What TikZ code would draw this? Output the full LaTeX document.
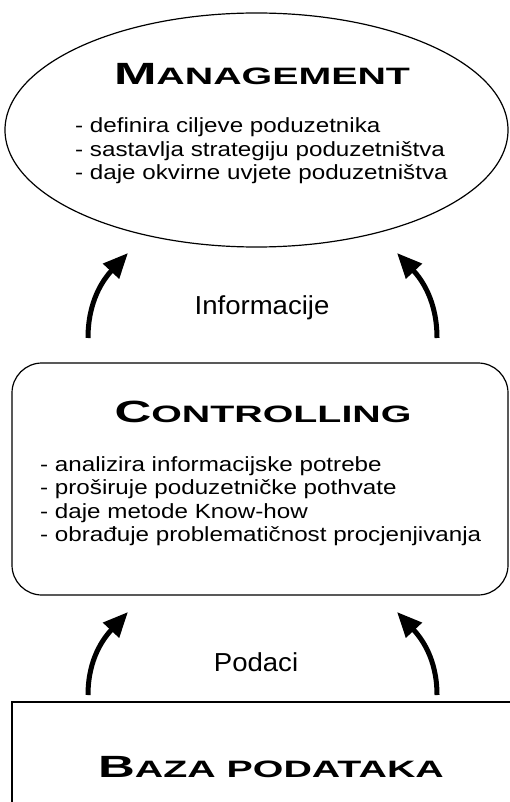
\documentclass[tikz,border=0pt]{standalone}
\usepackage{fontspec}
\usepackage{tikz}
\usetikzlibrary{shapes.geometric,arrows.meta}
\setmainfont{Liberation Sans}
\newfontfamily\bodyfont[FakeStretch=1.18]{Liberation Sans}
\newfontfamily\labelfont[FakeStretch=1.06]{Liberation Sans}
\newfontfamily\titlefont[FakeStretch=1.66]{Liberation Sans Bold}
\newcommand{\sctitle}[2]{{\fontsize{30.7}{31}\selectfont #1}{\fontsize{23.7}{24}\selectfont #2}}

\begin{document}
\begin{tikzpicture}[x=1pt,y=1pt,
    box/.style={draw, line width=1.2pt, inner sep=0pt},
    title/.style={anchor=base, inner sep=0pt, font=\titlefont},
    list/.style={anchor=base west, align=left, inner sep=0pt, font=\bodyfont\fontsize{20.5}{23.5}\selectfont},
    flowlabel/.style={anchor=base, inner sep=0pt, font=\labelfont\fontsize{26}{28}\selectfont},
    flow/.style={line width=5pt, -{Triangle[length=25pt,width=21pt]}}]
    \useasboundingbox (0,0) rectangle (510,-802);
	\node[box, ellipse, minimum width=503pt, minimum height=234pt] at (256.5,-130) (mgmt) {};
	\node[box, rounded corners=30pt, minimum width=496pt, minimum height=232pt] at (260,-479) (ctrl) {};
	\node[box, minimum width=500pt, minimum height=128pt] at (262,-766) (baza) {};
	\node[title] at (262,-85) (mgmttitle) {\sctitle{M}{ANAGEMENT}};
	% base anchor of a list sits on its last line
	\node[list] at (75,-180) (mgmtlist) {- definira ciljeve poduzetnika\\- sastavlja strategiju poduzetništva\\- daje okvirne uvjete poduzetništva};
	\node[title] at (263,-422) (ctrltitle) {\sctitle{C}{ONTROLLING}};
	\node[list] at (40,-541.5) (ctrllist) {- analizira informacijske potrebe\\- proširuje poduzetničke pothvate\\- daje metode Know-how\\- obrađuje problematičnost procjenjivanja};
	\node[title] at (271,-777) (bazatitle) {\sctitle{B}{AZA PODATAKA}};
	\node[flowlabel] at (262,-314) (info) {Informacije};
	\node[flowlabel] at (256,-671) (podaci) {Podaci};
	\coordinate (info1) at (88,-338);
	\coordinate (info1tip) at (128,-253);
	\coordinate (info2) at (437,-338);
	\coordinate (info2tip) at (397,-253);
	\coordinate (pod1) at (88,-695);
	\coordinate (pod1tip) at (128,-612);
	\coordinate (pod2) at (437,-695);
	\coordinate (pod2tip) at (397,-612);
    \path[flow] (info1) edge[out=90,in=-133] (info1tip);
    \path[flow] (info2) edge[out=90,in=-47] (info2tip);
    \path[flow] (pod1) edge[out=90,in=-133] (pod1tip);
    \path[flow] (pod2) edge[out=90,in=-47] (pod2tip);
\end{tikzpicture}
\end{document}
